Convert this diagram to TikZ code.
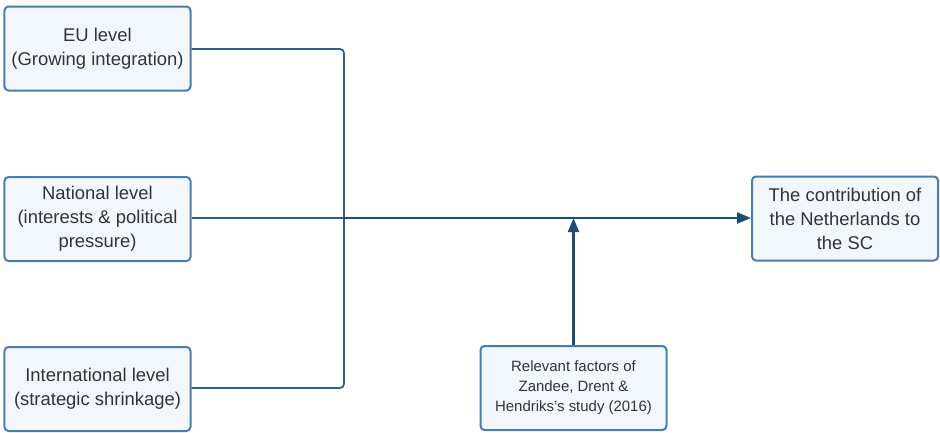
\documentclass[tikz,border=0pt]{standalone}
\usepackage{fontspec}
\setmainfont{Liberation Sans}
\usetikzlibrary{arrows.meta}
\definecolor{boxborder}{HTML}{4A7BB3}
\definecolor{boxfill}{HTML}{F2F7FE}
\definecolor{linecol}{HTML}{2F5E8A}
\definecolor{trunkcol}{HTML}{1F4C77}
\definecolor{txt}{HTML}{333333}
\tikzset{
  box/.style={draw=boxborder, fill=boxfill, line width=2bp, rounded corners=4bp,
    minimum width=186bp, minimum height=84bp, inner sep=0pt, align=center,
    text=txt, font=\fontsize{18.5}{24}\selectfont},
  smallbox/.style={box, font=\fontsize{15}{20}\selectfont},
  thinline/.style={draw=linecol, line width=1.7bp, rounded corners=4bp},
  trunk/.style={draw=trunkcol, line width=2.1bp, -{Triangle[length=14bp,width=11bp]}}
}
\begin{document}
\begin{tikzpicture}[x=1bp,y=-1bp]
\useasboundingbox (0,0) rectangle (940,432);
\node[box] (eu) at (97.5,48.5) {EU level\\(Growing integration)};
\node[box] (nat) at (97.5,219) {National level\\(interests \& political\\pressure)};
\node[box] (intl) at (97.5,389) {International level\\(strategic shrinkage)};
\node[box] (tgt) at (845,218.5) {The contribution of\\the Netherlands to\\the SC};
\node[smallbox] (fac) at (573.5,388) {Relevant factors of\\Zandee, Drent \&\\Hendriks{\char39}s study (2016)};
\coordinate (j) at (344,218);
\draw[thinline] (eu.east |- 0,49) -| (j);
\draw[thinline] (intl.east |- 0,388) -| (j);
\draw[thinline] (nat.east |- j) -- (j);
\draw[trunk] (j) -- (tgt.west |- j);
\draw[trunk] (fac.north) -- (fac.north |- j);
\end{tikzpicture}
\end{document}
